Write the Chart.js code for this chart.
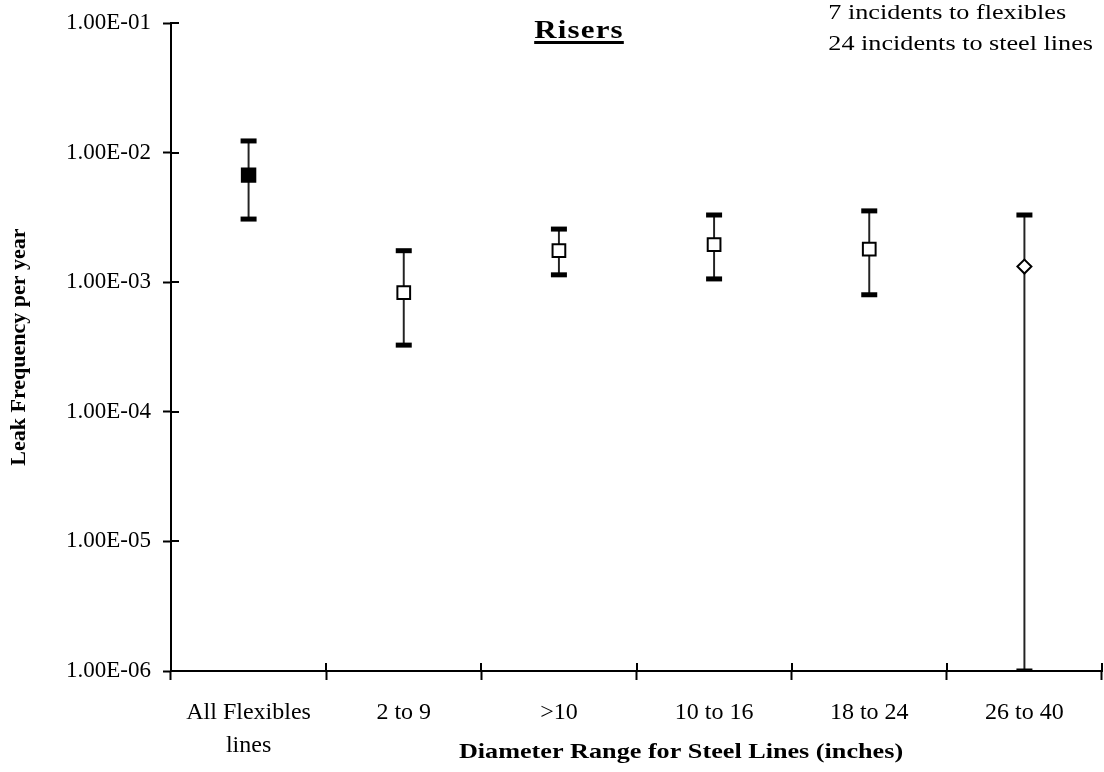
<!DOCTYPE html>
<html>
<head>
<meta charset="utf-8">
<script src="https://cdn.jsdelivr.net/npm/chart.js@4.4.0/dist/chart.umd.min.js"></script>
<style>
  html, body { margin: 0; padding: 0; background: #ffffff; overflow: hidden; }
  #wrap { position: relative; width: 1104px; height: 772px; overflow: hidden; }
  #c { display: block; }
</style>
</head>
<body>
<div id="wrap"><canvas id="c" width="1115" height="772"></canvas></div>
<script>
// ---- data ----
const categories = [["All Flexibles", "lines"], "2 to 9", ">10", "10 to 16", "18 to 24", "26 to 40"];
const frequency  = [6.7e-3, 8.3e-4, 1.75e-3, 1.95e-3, 1.8e-3, 1.32e-3];
const upperBound = [1.23e-2, 1.75e-3, 2.57e-3, 3.3e-3, 3.55e-3, 3.3e-3];
const lowerBound = [3.07e-3, 3.27e-4, 1.14e-3, 1.06e-3, 8.0e-4, 1.0e-6];
const markerStyle = ["rect", "rect", "rect", "rect", "rect", "rectRot"];
const markerFill  = ["#000000", "#ffffff", "#ffffff", "#ffffff", "#ffffff", "#ffffff"];
const yTicks = [1e-6, 1e-5, 1e-4, 1e-3, 1e-2, 1e-1];
const yTickLabels = ["1.00E-06", "1.00E-05", "1.00E-04", "1.00E-03", "1.00E-02", "1.00E-01"];
const chartTitle = "Risers";
const noteLines = ["7 incidents to flexibles", "24 incidents to steel lines"];
const xTitle = "Diameter Range for Steel Lines (inches)";
const yTitle = "Leak Frequency per year";

const FONT = "'Liberation Serif', 'Times New Roman', serif";
const STRETCH = 1.19;

const ranges = lowerBound.map((lo, i) => [lo, upperBound[i]]);

function stretchedText(ctx, text, x, y, align) {
  const w = ctx.measureText(text).width * STRETCH;
  let left = x;
  if (align === 'center') left = x - w / 2;
  else if (align === 'right') left = x - w;
  ctx.save();
  ctx.translate(left, y);
  ctx.scale(STRETCH, 1);
  ctx.textAlign = 'left';
  ctx.fillText(text, 0, 0);
  ctx.restore();
  return { left, width: w };
}

const decorPlugin = {
  id: 'decor',
  afterDraw(chart) {
    const ctx = chart.ctx;
    const area = chart.chartArea;
    const xs = chart.scales.x, ys = chart.scales.y;
    ctx.save();
    ctx.strokeStyle = '#000';
    ctx.lineWidth = 2;
    // inner halves of tick marks (ticks cross the axes)
    yTicks.forEach(v => {
      const y = Math.round(ys.getPixelForValue(v));
      ctx.beginPath(); ctx.moveTo(area.left, y); ctx.lineTo(area.left + 8, y); ctx.stroke();
    });
    for (let i = 0; i <= categories.length; i++) {
      const x = Math.round(xs.getPixelForValue(i - 0.5));
      ctx.beginPath(); ctx.moveTo(x, area.bottom); ctx.lineTo(x, area.bottom - 8); ctx.stroke();
    }
    ctx.fillStyle = '#000';
    ctx.textBaseline = 'alphabetic';
    // title (bold, underlined)
    ctx.font = "bold 26px " + FONT;
    try { ctx.letterSpacing = '1px'; } catch (e) {}
    const t = stretchedText(ctx, chartTitle, 579, 38, 'center');
    try { ctx.letterSpacing = '0px'; } catch (e) {}
    ctx.fillRect(t.left, 41, t.width, 3);
    // notes, right end near the edge
    ctx.font = "22px " + FONT;
    const longest = Math.max(...noteLines.map(s => ctx.measureText(s).width)) * STRETCH;
    const nx = 1093 - longest;
    stretchedText(ctx, noteLines[0], nx, 19, 'left');
    stretchedText(ctx, noteLines[1], nx, 50, 'left');
    // x title
    ctx.font = "bold 22px " + FONT;
    stretchedText(ctx, xTitle, 681, 758, 'center');
    // y title
    ctx.save();
    ctx.translate(25, 347);
    ctx.rotate(-Math.PI / 2);
    ctx.font = "bold 22px " + FONT;
    ctx.textAlign = 'center';
    ctx.fillText(yTitle, 0, 0);
    ctx.restore();
    ctx.restore();
  }
};

new Chart(document.getElementById('c'), {
  data: {
    labels: categories,
    datasets: [
      {
        type: 'line',
        label: 'Leak frequency',
        data: frequency,
        showLine: false,
        pointStyle: markerStyle,
        pointRadius: [9.5, 9, 9, 9, 9, 7],
        pointBackgroundColor: markerFill,
        pointBorderColor: '#000000',
        pointBorderWidth: 2,
        order: 0
      },
      {
        type: 'line',
        label: 'Upper',
        data: upperBound,
        showLine: false,
        pointStyle: 'line',
        pointRadius: 8,
        pointBorderColor: '#000000',
        pointBorderWidth: 5,
        order: 1
      },
      {
        type: 'line',
        label: 'Lower',
        data: lowerBound,
        showLine: false,
        pointStyle: 'line',
        pointRadius: 8,
        pointBorderColor: '#000000',
        pointBorderWidth: 5,
        order: 1
      },
      {
        type: 'bar',
        label: 'Range',
        data: ranges,
        barThickness: 1.3,
        backgroundColor: '#222222',
        borderWidth: 0,
        order: 2
      }
    ]
  },
  options: {
    responsive: false,
    animation: false,
    events: [],
    layout: { padding: { left: 0, right: 1, top: 23, bottom: 0 } },
    plugins: {
      legend: { display: false },
      tooltip: { enabled: false },
      title: { display: false }
    },
    scales: {
      x: {
        type: 'category',
        offset: true,
        grid: { display: true, offset: true, drawOnChartArea: false, drawTicks: true, tickLength: 9, tickWidth: 2, tickColor: '#000' },
        border: { display: true, color: '#000', width: 2 },
        ticks: { color: '#000', font: { family: FONT, size: 24, lineHeight: 1.38 }, padding: 16, maxRotation: 0, autoSkip: false },
        afterFit(scale) { scale.height = 101; scale.paddingLeft = 0; scale.paddingRight = 0; }
      },
      y: {
        type: 'logarithmic',
        min: 1e-6,
        max: 1e-1,
        afterBuildTicks(scale) { scale.ticks = yTicks.map(v => ({ value: v, major: true })); },
        grid: { display: true, drawOnChartArea: false, drawTicks: true, tickLength: 8, tickWidth: 2, tickColor: '#000' },
        border: { display: true, color: '#000', width: 2 },
        ticks: {
          color: '#000',
          font: { family: FONT, size: 23 },
          padding: 12,
          autoSkip: false,
          callback(value) {
            const i = yTicks.findIndex(t => Math.abs(Math.log10(t) - Math.log10(value)) < 1e-6);
            return i >= 0 ? yTickLabels[i] : '';
          }
        },
        afterFit(scale) { scale.width = 171; scale.paddingTop = 0; scale.paddingBottom = 0; }
      }
    }
  },
  plugins: [decorPlugin]
});
</script>
</body>
</html>
